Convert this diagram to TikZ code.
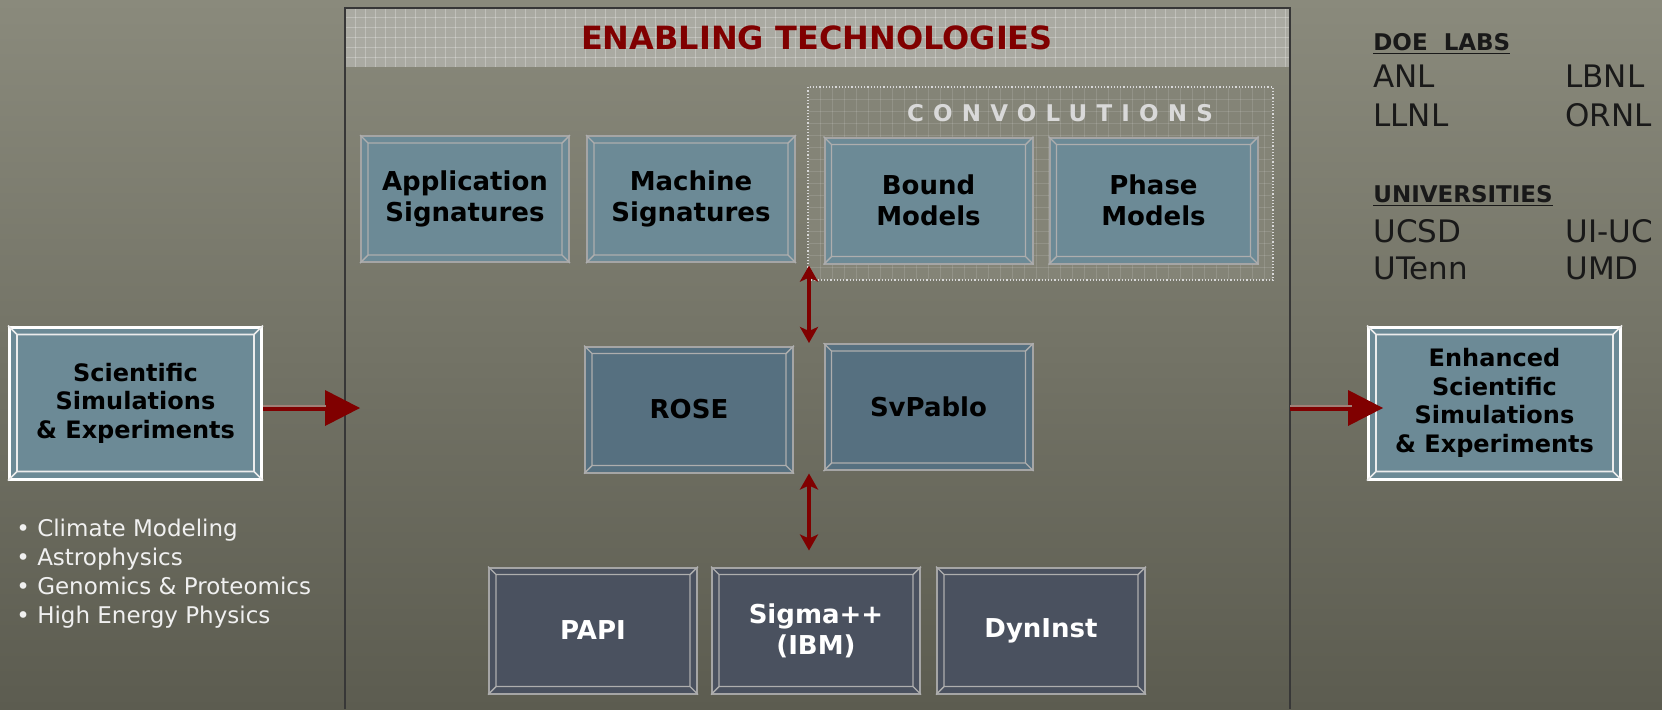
\documentclass[tikz,border=0pt]{standalone}
\usepackage{fontspec}
\setmainfont{DejaVu Sans}
\newfontfamily\convfont[LetterSpace=40]{DejaVu Sans}
\usetikzlibrary{arrows.meta,positioning}

\definecolor{bgtop}{RGB}{138,138,124}
\definecolor{bgbot}{RGB}{92,92,80}
\definecolor{boxblue}{RGB}{108,138,150}
\definecolor{boxmid}{RGB}{86,112,128}
\definecolor{boxdark}{RGB}{74,81,95}
\definecolor{bevelgray}{RGB}{165,165,165}
\definecolor{arrowred}{RGB}{128,0,0}
\definecolor{headfill}{RGB}{170,170,162}
\definecolor{convfill}{RGB}{132,132,119}
\definecolor{panelline}{RGB}{55,55,55}
\definecolor{stripe}{RGB}{160,128,120}

% bevelled frame inside a box: node, inset, line style
\newcommand{\bevel}[3]{%
  \draw[#3] ([shift={(#2,#2)}]#1.north west) rectangle ([shift={(-#2,-#2)}]#1.south east)
    (#1.north west) -- ++(#2,#2) (#1.north east) -- ++(-#2,#2)
    (#1.south west) -- ++(#2,-#2) (#1.south east) -- ++(-#2,-#2);}

\tikzset{
  techbox/.style={draw=bevelgray, line width=1pt, fill=boxblue, minimum width=104pt,
    minimum height=63pt, inner sep=0pt, align=center,
    font=\fontsize{13}{15.5}\selectfont\bfseries},
  midbox/.style={techbox, fill=boxmid},
  toolbox/.style={techbox, fill=boxdark, text=white},
  simbox/.style={techbox, draw=white, line width=1.5pt, minimum width=126pt,
    minimum height=76pt, font=\fontsize{12}{14.3}\selectfont\bfseries},
  bevelline/.style={bevelgray!90!white, line width=0.7pt},
  gridline/.style={white, opacity=0.25, line width=0.5pt},
  convgrid/.style={white, opacity=0.12, line width=0.5pt},
  fatshaft/.style={arrowred, line width=3pt,
    -{Triangle[length=17.5pt,width=18pt,line width=0pt]}},
  vlink/.style={arrowred, line width=1.8pt,
    {Stealth[length=8pt,width=9pt,inset=2pt]}-{Stealth[length=8pt,width=9pt,inset=2pt]}},
  bullettext/.style={text=white!94!black, font=\fontsize{11.5}{13}\selectfont, inner sep=0pt},
  listtext/.style={text=black!90, font=\fontsize{15.5}{18}\selectfont, inner sep=0pt, anchor=base west},
  listhead/.style={listtext, font=\fontsize{11.5}{13}\selectfont\bfseries},
}

\begin{document}
\begin{tikzpicture}[x=0.5pt, y=-0.5pt]
\useasboundingbox (0,0) rectangle (1662,709);

% background
\shade[top color=bgtop, bottom color=bgbot] (0,0) rectangle (1662,709);

% header band of the panel
\fill[headfill] (345,9) rectangle (1290,67);
\foreach \gx in {355,365,...,1285} \draw[gridline] (\gx,9) -- (\gx,67);
\foreach \gy in {17,27,37,47,57} \draw[gridline] (345,\gy) -- (1290,\gy);
\node[font=\fontsize{16}{19}\selectfont\bfseries, text=arrowred] (title) at (817,38) {ENABLING TECHNOLOGIES};

% panel frame
\draw[panelline, line width=1pt] (345,709) -- (345,8) -- (1290,8) -- (1290,709);

% convolutions area
\node[draw=white!85!black, densely dotted, line width=0.6pt, fill=convfill,
      minimum width=232.5pt, minimum height=96.5pt, inner sep=0pt] (conv) at (1040.5,183.5) {};
\foreach \gx in {820,832,...,1270} \draw[convgrid] (\gx,88) -- (\gx,279);
\foreach \gy in {99,111,...,275} \draw[convgrid] (809,\gy) -- (1272,\gy);
\node[text=white!85!black, font=\fontsize{11.5}{13}\selectfont] (convlabel) at (1060,113) {\convfont\bfseries CONVOLUTIONS};

% top row
\node[techbox] (app) at (465,199) {Application\\Signatures};
\node[techbox, right=8pt of app] (mach) {Machine\\Signatures};
\node[techbox] (bound) at (928.5,200.5) {Bound\\Models};
\node[techbox, right=7.5pt of bound] (phase) {Phase\\Models};

% middle row
\node[midbox] (rose) at (689,409.5) {ROSE};
\node[midbox] (svpablo) at (928.5,407) {SvPablo};

% bottom row
\node[toolbox] (papi) at (593,630.5) {PAPI};
\node[toolbox, right=6.5pt of papi] (sigma) {Sigma++\\(IBM)};
\node[toolbox, right=7.5pt of sigma] (dyninst) {DynInst};

% outer boxes
\node[simbox] (sci) at (135.5,403) {Scientific\\Simulations\\\& Experiments};
\node[simbox] (enh) at (1494.5,403) {Enhanced\\Scientific\\Simulations\\\& Experiments};

\foreach \b in {app,mach,bound,phase,rose,svpablo,papi,sigma,dyninst} \bevel{\b}{8}{bevelline};
\bevel{sci}{9}{white!85!gray, line width=0.8pt}
\bevel{enh}{9}{white!85!gray, line width=0.8pt}

% flow arrows
\coordinate (inarrow) at (360,408);
\coordinate (outstart) at (1290,408);
\draw[fatshaft] ([yshift=-2.5pt]sci.east) -- (inarrow);
\draw[stripe, line width=1pt] ([yshift=-1.35pt]sci.east) -- ++(63,0);
\draw[fatshaft] (outstart) -- ([xshift=8pt,yshift=-2.5pt]enh.west);
\draw[stripe, line width=1pt] ([yshift=-1.35pt]outstart |- enh.west) -- ++(62,0);

% vertical links
\coordinate (mid) at (809,0);
\draw[vlink] ([yshift=7.5pt]conv.south -| mid) -- (svpablo.north -| mid);
\draw[vlink] (rose.south -| mid) -- ([yshift=8pt]sigma.north -| mid);

% application areas
\foreach \t [count=\i] in {Climate Modeling, Astrophysics, Genomics \& Proteomics, High Energy Physics}
  \node[bullettext, anchor=base west] (area\i) at (16,{536+29*(\i-1)}) {• \t};

% partners
\node[listhead] (doe) at (1373,50) {\underline{DOE~~LABS}};
\node[listtext] (anl) at (1373,87) {ANL};
\node[listtext] (lbnl) at (1565,87) {LBNL};
\node[listtext] (llnl) at (1373,126) {LLNL};
\node[listtext] (ornl) at (1565,126) {ORNL};
\node[listhead] (univ) at (1373,202) {\underline{UNIVERSITIES}};
\node[listtext] (ucsd) at (1373,242) {UCSD};
\node[listtext] (uiuc) at (1565,242) {UI-UC};
\node[listtext] (utenn) at (1373,279) {UTenn};
\node[listtext] (umd) at (1565,279) {UMD};
\end{tikzpicture}
\end{document}
